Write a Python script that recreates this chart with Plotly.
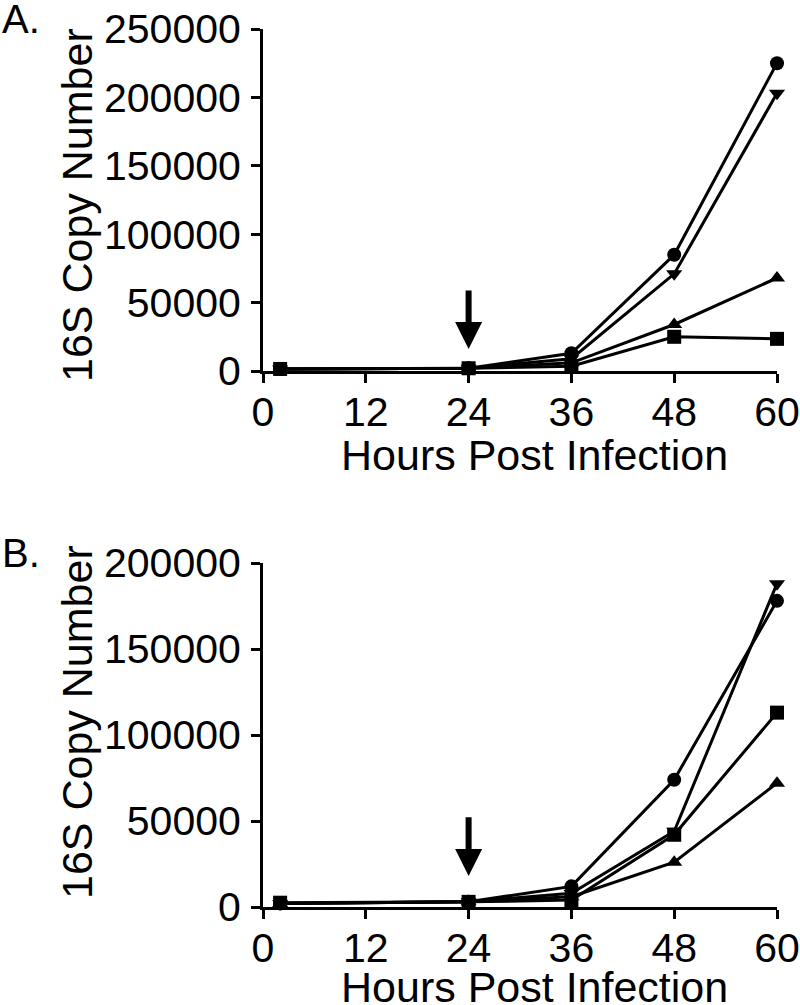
import plotly.graph_objects as go

hours = [2, 24, 36, 48, 60]

# Panel A values
a_circle = [1500, 2000, 13000, 85000, 225000]
a_tri_down = [1500, 2000, 9000, 71000, 203000]
a_tri_up = [1500, 2000, 6000, 34000, 68000]
a_square = [1500, 2000, 3500, 25000, 23500]

# Panel B values
b_circle = [2000, 3000, 12000, 74000, 178000]
b_tri_down = [2000, 3000, 8000, 44000, 188000]
b_tri_up = [2000, 3000, 6000, 26000, 72000]
b_square = [2500, 3000, 4000, 42000, 113000]

x_ticks = [0, 12, 24, 36, 48, 60]
a_y_ticks = [0, 50000, 100000, 150000, 200000, 250000]
b_y_ticks = [0, 50000, 100000, 150000, 200000]

W, H = 800, 1005
FONT = "Liberation Sans, Arial, sans-serif"
FS = 41

fig = go.Figure()

symbols = ["square", "triangle-up", "triangle-down", "circle"]
sets = [
    ("x", "y", [a_square, a_tri_up, a_tri_down, a_circle]),
    ("x2", "y2", [b_square, b_tri_up, b_tri_down, b_circle]),
]
for xa, ya, series in sets:
    for sym, vals in zip(symbols, series):
        fig.add_trace(go.Scatter(
            x=hours, y=vals, xaxis=xa, yaxis=ya,
            mode="lines+markers",
            line=dict(color="black", width=3),
            marker=dict(symbol=sym, size=14, color="black"),
            cliponaxis=False, showlegend=False,
        ))

def px_x(p):
    return p / W

def px_y(p):
    return 1 - p / H

axis_common = dict(
    showgrid=False, zeroline=False, showline=True, linecolor="black", linewidth=3,
    ticks="outside", ticklen=9, tickwidth=3, tickcolor="black", automargin=False,
    tickformat="d",
    tickfont=dict(family=FONT, size=FS, color="black"),
)

fig.update_layout(
    template="none",
    width=W, height=H,
    margin=dict(l=0, r=0, t=0, b=0, pad=0),
    plot_bgcolor="white", paper_bgcolor="white",
    xaxis=dict(domain=[px_x(263), px_x(777)], range=[0, 60], tickvals=x_ticks,
               anchor="y", ticklabelstandoff=-6, **axis_common),
    yaxis=dict(domain=[px_y(371), px_y(29)], range=[0, 250000], tickvals=a_y_ticks,
               anchor="x", ticklabelstandoff=2, **axis_common),
    xaxis2=dict(domain=[px_x(263), px_x(777)], range=[0, 60], tickvals=x_ticks,
                anchor="y2", ticklabelstandoff=-6, **axis_common),
    yaxis2=dict(domain=[px_y(907), px_y(563)], range=[0, 200000], tickvals=b_y_ticks,
                anchor="x2", ticklabelstandoff=2, **axis_common),
)

ann_font = dict(family=FONT, size=43, color="black")
annotations = [
    dict(text="A.", x=0, y=px_y(19), xref="paper", yref="paper",
         xanchor="left", yanchor="middle", showarrow=False,
         font=dict(family=FONT, size=40, color="black")),
    dict(text="B.", x=0, y=px_y(553), xref="paper", yref="paper",
         xanchor="left", yanchor="middle", showarrow=False,
         font=dict(family=FONT, size=40, color="black")),
    dict(text="16S Copy Number", x=px_x(77), y=px_y(205), xref="paper", yref="paper",
         textangle=-90, xanchor="center", yanchor="middle", showarrow=False, font=ann_font),
    dict(text="16S Copy Number", x=px_x(77), y=px_y(722), xref="paper", yref="paper",
         textangle=-90, xanchor="center", yanchor="middle", showarrow=False, font=ann_font),
    dict(text="Hours Post Infection", x=px_x(534), y=px_y(455), xref="paper", yref="paper",
         xanchor="center", yanchor="middle", showarrow=False, font=ann_font),
    dict(text="Hours Post Infection", x=px_x(534), y=px_y(987), xref="paper", yref="paper",
         xanchor="center", yanchor="middle", showarrow=False, font=ann_font),
    dict(x=24, y=16000, ax=24, ay=60000, xref="x", yref="y", axref="x", ayref="y",
         showarrow=True, arrowhead=2, arrowsize=0.9, arrowwidth=6, arrowcolor="black", text=""),
    dict(x=24, y=18000, ax=24, ay=53000, xref="x2", yref="y2", axref="x2", ayref="y2",
         showarrow=True, arrowhead=2, arrowsize=0.9, arrowwidth=6, arrowcolor="black", text=""),
]
fig.update_layout(annotations=annotations)

fig.write_html(
    "out.html",
    config={"displayModeBar": False},
    post_script="document.body.style.margin='0';document.body.style.overflow='hidden';",
)
